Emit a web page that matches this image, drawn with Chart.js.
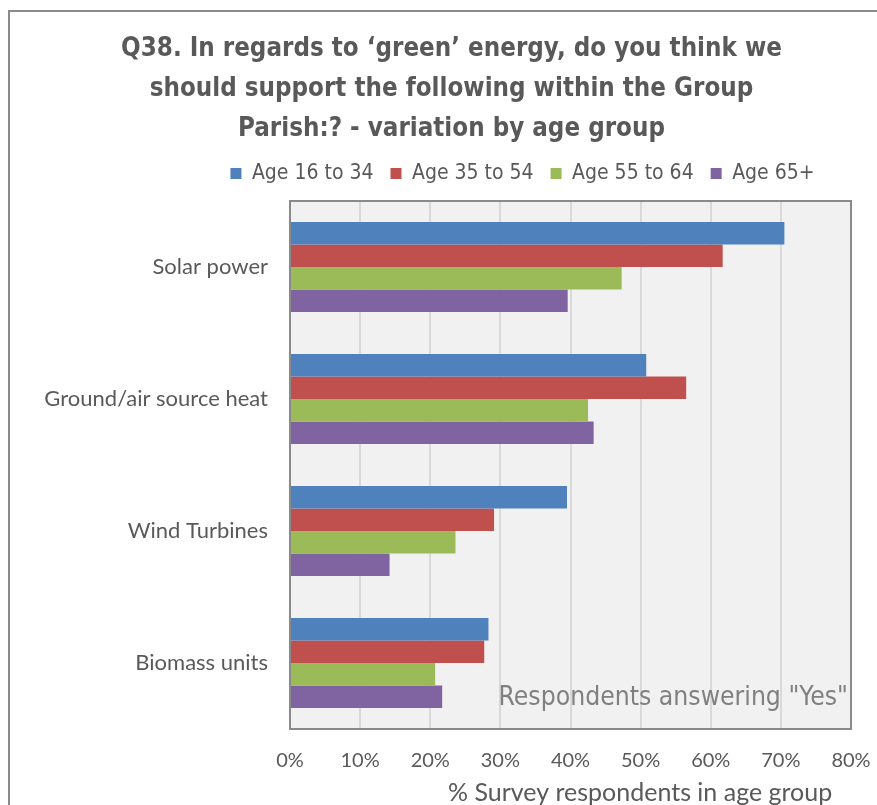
<!DOCTYPE html>
<html>
<head>
<meta charset="utf-8">
<script src="https://cdn.jsdelivr.net/npm/chart.js@4/dist/chart.umd.min.js"></script>
<style>
  html, body { margin: 0; padding: 0; background: #fff; overflow: hidden; }
  #wrap { width: 877px; height: 805px; }
</style>
</head>
<body>
<div id="wrap"><canvas id="energyChart" width="877" height="805"></canvas></div>
<script>
/* Q38 green energy - variation by age group */
const categories = ["Solar power", "Ground/air source heat", "Wind Turbines", "Biomass units"];
const ageGroups = ["Age 16 to 34", "Age 35 to 54", "Age 55 to 64", "Age 65+"];
const age16to34 = [70.5, 50.8, 39.5, 28.3];
const age35to54 = [61.7, 56.5, 29.1, 27.7];
const age55to64 = [47.3, 42.5, 23.6, 20.7];
const age65plus = [39.6, 43.3, 14.2, 21.7];
const xTicks = [0, 10, 20, 30, 40, 50, 60, 70, 80];

const colours = ["#4f81bd", "#c0504d", "#9bbb59", "#8064a2"];
const seriesValues = [age16to34, age35to54, age55to64, age65plus];
const narrow = "'DejaVu Sans Condensed', Roboto, sans-serif";

const frame = {
  id: "frame",
  beforeInit(chart) {
    // a bit more room under the legend, like the original
    const lg = chart.legend;
    if (lg) {
      const fit = lg.fit;
      lg.fit = function () { fit.call(this); this.height += 7; };
    }
  },
  afterLayout(chart) {
    // title and legend were nudged right in the original
    if (chart.titleBlock) { chart.titleBlock.left += 13; chart.titleBlock.right += 13; }
    if (chart.legend) { chart.legend.left += 84; chart.legend.right += 84; }
  },
  beforeDraw(chart) {
    const { ctx, chartArea: a } = chart;
    ctx.save();
    ctx.fillStyle = "#f1f1f1";
    ctx.fillRect(a.left, a.top, a.right - a.left, a.bottom - a.top);
    ctx.strokeStyle = "#8a8a8a";
    ctx.lineWidth = 2;
    ctx.strokeRect(9, 11, 1000, 1000);
    ctx.restore();
  },
  afterDraw(chart) {
    const { ctx, chartArea: a } = chart;
    ctx.save();
    ctx.strokeStyle = "#8a8a8a";
    ctx.lineWidth = 2;
    ctx.strokeRect(a.left, a.top, a.right - a.left, a.bottom - a.top);
    ctx.font = "26.3px " + narrow;
    ctx.fillStyle = "#808080";
    ctx.textAlign = "right";
    ctx.textBaseline = "middle";
    ctx.fillText('Respondents answering "Yes"', a.right - 3, a.bottom - 31);
    ctx.restore();
  }
};

new Chart(document.getElementById("energyChart"), {
  type: "bar",
  data: {
    labels: categories,
    datasets: ageGroups.map((g, i) => ({
      label: g,
      data: seriesValues[i],
      backgroundColor: colours[i],
      categoryPercentage: 0.68,
      barPercentage: 1
    }))
  },
  options: {
    indexAxis: "y",
    responsive: false,
    animation: false,
    layout: { padding: 0 },
    plugins: {
      title: {
        display: true,
        text: ["Q38. In regards to \u2018green\u2019 energy, do you think we",
               "should support the following within the Group",
               "Parish:? - variation by age group"],
        color: "#595959",
        font: { family: narrow, size: 25.7, weight: "bold", lineHeight: 40 / 25.7 },
        padding: { top: 29, bottom: -3 }
      },
      legend: {
        position: "top",
        labels: {
          color: "#595959",
          font: { family: narrow, size: 21 },
          boxWidth: 11,
          boxHeight: 11,
          padding: 17
        }
      },
      tooltip: { enabled: false }
    },
    scales: {
      x: {
        min: 0,
        max: 80,
        afterBuildTicks(scale) { scale.ticks = xTicks.map(v => ({ value: v })); },
        afterFit(scale) { scale.height = 76; scale.paddingRight = 26; scale.paddingLeft = 0; },
        grid: { color: "#d9d9d9", lineWidth: 2, drawTicks: false },
        border: { color: "#8a8a8a", width: 2 },
        ticks: {
          color: "#595959",
          font: { family: "Lato", size: 20 },
          padding: 20,
          callback: v => v + "%"
        },
        title: {
          display: true,
          align: "end",
          text: "% Survey respondents in age group\u2003",
          color: "#595959",
          font: { family: "Lato", size: 25 },
          padding: { top: 0, bottom: -3 }
        }
      },
      y: {
        afterFit(scale) { scale.width = 290; },
        grid: { display: false, drawTicks: false },
        border: { color: "#8a8a8a", width: 2 },
        ticks: {
          color: "#595959",
          font: { family: "Lato", size: 22 },
          padding: 22
        }
      }
    }
  },
  plugins: [frame]
});
</script>
</body>
</html>
